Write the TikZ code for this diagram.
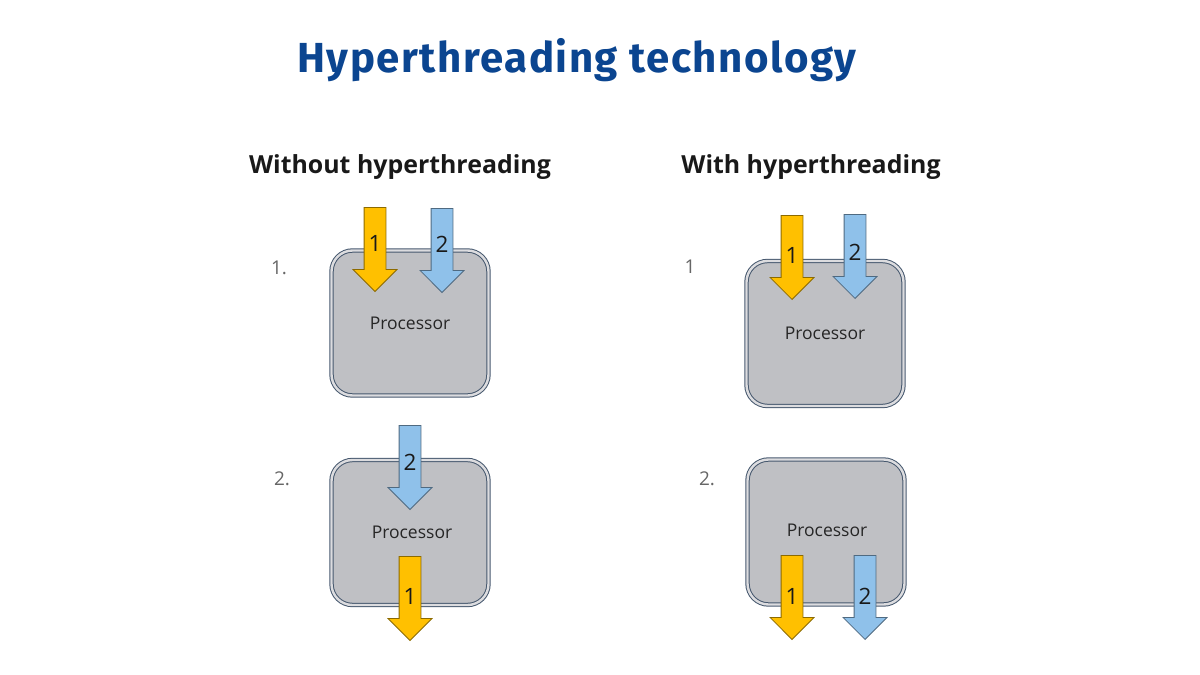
\documentclass[tikz,border=0pt]{standalone}
\usepackage{fontspec}
\setmainfont{Open Sans}
\newfontfamily\titlefont[LetterSpace=3.6]{Fira Sans}
\usetikzlibrary{shapes.arrows}
\definecolor{titleblue}{HTML}{0B4590}
\definecolor{procgray}{HTML}{BFC0C4}
\definecolor{procedge}{HTML}{46586E}
\definecolor{threadyellow}{HTML}{FFC000}
\definecolor{threadblue}{HTML}{8FC1EA}
\tikzset{
    x=1pt,y=-1pt,
    proc/.style ={draw=procedge, line width=1pt, double=procgray!55!white, double distance=2.4pt, fill=procgray, rounded corners=21pt, minimum width=157pt, minimum height=145pt, inner sep=0pt},
    ptext/.style = {font=\fontsize{17.5}{20}\selectfont, text=black!85, inner sep=0pt},
    thread/.style = {single arrow, draw=#1!55!black, line width=0.8pt, inner sep=10.5pt, minimum height=84pt, single arrow head extend=11pt, shape border rotate=270, anchor=tip},
    yarrow/.style = {thread=threadyellow, fill=threadyellow},
    barrow/.style = {thread=threadblue, fill=threadblue},
    num/.style = {font=\fontsize{22.5}{24}\selectfont, text=black!90, inner sep=0pt},
    steplabel/.style = {font=\fontsize{19}{21}\selectfont, text=black!60, inner sep=0pt},
    head/.style = {font=\fontsize{24.9}{28}\selectfont\bfseries, text=black!90, inner sep=0pt}
}
\begin{document}
\begin{tikzpicture}

    \useasboundingbox (0,0) rectangle (1200,675);

    % headings
    \node[font=\titlefont\fontsize{42}{46}\selectfont\bfseries, text=titleblue, inner sep=0pt] (title) at (577,60) {Hyperthreading technology};
    \node[head] (without) at (400,167) {Without hyperthreading};
    \node[head] (with) at (811,167) {With hyperthreading};

    % left column, step 1
    \node[steplabel] (stepa) at (279,268) {1.};
    \node[proc] (proca) at (410,323) {};
    \node[ptext] (texta) at (410,323) {Processor};
    \node[yarrow] (ya) at (375,292) {};
    \node[num] (ya1) at (375,243) {1};
    \node[barrow] (ba) at (442,293) {};
    \node[num] (ba2) at (442,244) {2};

    % left column, step 2
    \node[steplabel] (stepb) at (282,479) {2.};
    \node[proc] (procb) at (410,532.5) {};
    \node[ptext] (textb) at (412,532) {Processor};
    \node[barrow] (bb) at (410,510) {};
    \node[num] (bb2) at (410,462) {2};
    \node[yarrow] (yb) at (410,641) {};
    \node[num] (yb1) at (410,596) {1};

    % right column, step 1
    \node[steplabel] (stepc) at (690,267) {1};
    \node[proc] (procc) at (825,333.5) {};
    \node[ptext] (textc) at (825,333) {Processor};
    \node[yarrow] (yc) at (792,300) {};
    \node[num] (yc1) at (792,255) {1};
    \node[barrow] (bc) at (855,299) {};
    \node[num] (bc2) at (855,252) {2};

    % right column, step 2
    \node[steplabel] (stepd) at (707,479) {2.};
    \node[proc] (procd) at (826,532) {};
    \node[ptext] (textd) at (827,530) {Processor};
    \node[yarrow] (yd) at (792,640) {};
    \node[num] (yd1) at (792,596) {1};
    \node[barrow] (bd) at (865,640) {};
    \node[num] (bd2) at (865,596) {2};

\end{tikzpicture}
\end{document}
